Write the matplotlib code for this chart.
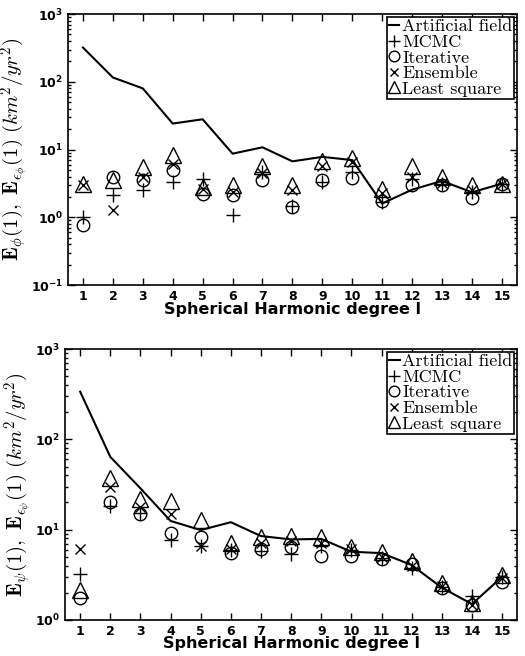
import numpy as np
import matplotlib
matplotlib.use('Agg')
from matplotlib import pyplot as plt

plt.rcParams['mathtext.fontset'] = 'cm'

# degree l
deg = np.arange(1, 16)

# upper panel: E_phi
phi_field = [321, 116, 80, 24.2, 28, 8.7, 10.8, 6.7, 7.8, 7.0, 1.6, 2.56, 3.44, 2.34, 3.14]
phi_mcmc = [1.0, 2.1, 2.5, 3.3, 3.7, 1.07, 4.7, 1.47, 3.3, 4.7, 1.7, 3.7, 3.1, 2.4, 3.1]
phi_iter = [0.76, 3.9, 3.6, 5.0, 2.2, 2.1, 3.6, 1.4, 3.6, 3.85, 1.75, 3.0, 3.0, 1.95, 3.1]
phi_ens = [2.97, 1.27, 4.0, 6.1, 2.65, 2.37, 4.5, 2.5, 5.7, 6.6, 2.3, 3.9, 3.2, 2.5, 3.1]
phi_lsq = [3.1, 3.5, 5.5, 8.2, 2.8, 3.0, 5.7, 3.0, 6.7, 7.5, 2.65, 5.7, 3.9, 3.0, 3.1]

# lower panel: E_psi
psi_field = [337, 64, 28.7, 12.5, 9.9, 12.1, 8.5, 7.8, 7.9, 5.7, 5.5, 4.06, 2.28, 1.5, 3.0]
psi_mcmc = [3.2, 18.3, 15.4, 7.6, 6.6, 6.0, 5.8, 5.4, 6.6, 6.0, 4.9, 3.8, 2.34, 1.85, 2.97]
psi_iter = [1.74, 20.4, 14.8, 9.3, 8.4, 5.5, 6.05, 6.4, 5.1, 5.1, 4.7, 4.2, 2.24, 1.47, 2.66]
psi_ens = [6.05, 30, 18, 14.8, 6.6, 6.1, 7.1, 7.4, 7.2, 6.05, 5.0, 4.0, 2.4, 1.47, 2.9]
psi_lsq = [2.15, 37, 22, 21, 12.8, 7.1, 8.4, 8.6, 8.2, 6.4, 5.6, 4.5, 2.6, 1.53, 3.15]

labels = ['Artificial field', 'MCMC', 'Iterative', 'Ensemble', 'Least square']

fig = plt.figure(figsize=(5.25, 6.56), dpi=100)
ax1 = fig.add_axes([0.1295, 0.5655, 0.855, 0.413])
ax2 = fig.add_axes([0.124, 0.0549, 0.861, 0.413])


def panel(ax, field, mcmc, it, ens, lsq, ylim, ylab):
    ax.plot(deg, field, '-k', linewidth=1.5, label=labels[0])
    ax.plot(deg, mcmc, 'k+', markersize=10, markeredgewidth=1.0, label=labels[1])
    ax.plot(deg, it, 'o', markerfacecolor='none', markeredgecolor='k',
            markersize=9, markeredgewidth=1.0, label=labels[2])
    ax.plot(deg, ens, 'kx', markersize=7, markeredgewidth=1.0, label=labels[3])
    ax.plot(deg, lsq, '^', markerfacecolor='none', markeredgecolor='k',
            markersize=11, markeredgewidth=1.0, label=labels[4])
    ax.set_yscale('log')
    ax.set_ylim(ylim)
    ax.set_xlim(0.5, 15.5)
    ax.set_xticks(deg)
    ax.tick_params(which='both', direction='in', top=True, right=True, width=1)
    ax.tick_params(which='major', length=5)
    ax.tick_params(which='minor', length=2.5)
    for t in ax.get_xticklabels() + ax.get_yticklabels():
        t.set_fontweight('bold')
        t.set_fontsize(9)
    for s in ax.spines.values():
        s.set_linewidth(1.2)
    ax.set_xlabel('Spherical Harmonic degree l', fontweight='bold', fontsize=11.5,
                  labelpad=-1)
    ax.set_ylabel(ylab, fontsize=15, labelpad=0)
    leg = ax.legend(loc='upper right', prop={'family': 'cmr10', 'size': 13},
                    handlelength=0.6, handletextpad=0.15, borderaxespad=0.15,
                    borderpad=0.1, labelspacing=0.0, fancybox=False,
                    edgecolor='k', framealpha=1, markerscale=0.85)
    leg.get_frame().set_linewidth(1.2)


panel(ax1, phi_field, phi_mcmc, phi_iter, phi_ens, phi_lsq, (0.1, 1000),
      r'$\mathbf{E}_{\phi}\mathbf{(1)},\ \mathbf{E}_{\epsilon_\phi}\mathbf{(1)}\ (km^2/yr^2)$')
panel(ax2, psi_field, psi_mcmc, psi_iter, psi_ens, psi_lsq, (1, 1000),
      r'$\mathbf{E}_{\psi}\mathbf{(1)},\ \mathbf{E}_{\epsilon_\psi}\mathbf{(1)}\ (km^2/yr^2)$')

plt.savefig('out.png', dpi=100)
